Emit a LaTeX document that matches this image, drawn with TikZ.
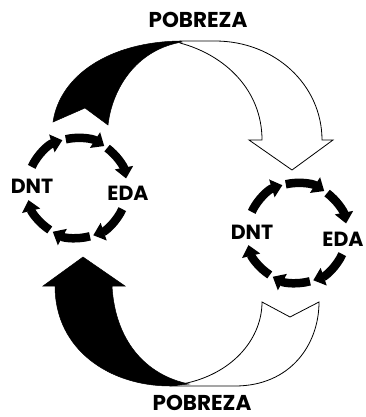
\documentclass[tikz,border=0pt]{standalone}
\usepackage{fontspec}
\setmainfont{Poppins}
\usetikzlibrary{arrows.meta,calc}
\tikzset{
  lbl/.style={inner sep=0pt, text height=14.3pt, text depth=0pt, font=\fontsize{20.5}{20.5}\selectfont\bfseries},
  title/.style={inner sep=0pt, text height=15pt, text depth=0pt, font=\fontsize{21.5}{21.5}\selectfont\bfseries},
  whitepart/.style={fill=white, draw=black, line width=0.8pt, line join=miter},
  blackpart/.style={fill=black, draw=black, line width=0.5pt},
  cyc/.style={line width=8.5pt, -{Triangle[width=18pt,length=11pt]}},
}
\begin{document}
\begin{tikzpicture}[x=1pt, y=-1pt]
\useasboundingbox (0,0) rectangle (365,417);
\clip (0,0) rectangle (365,417);
% top big arrow
\draw[whitepart] (180,41) -- (215,41) .. controls (275,41) and (322,85) .. (322,140)
  -- (333,140) -- (292,170) -- (249,140) -- (262,140)
  .. controls (262,90) and (225,55) .. (180,43) -- cycle;
\fill[blackpart] (53,122) .. controls (60,75) and (110,42) .. (180,41) -- (182,42)
  .. controls (135,50) and (112,90) .. (108,125) -- (85,108) -- cycle;
% bottom big arrow
\draw[whitepart] (170,386) -- (235,386) .. controls (290,386) and (319,345) .. (319,302)
  -- (290,317) -- (262,302) .. controls (262,337) and (235,372) .. (187,383) -- cycle;
\fill[blackpart] (55,286) .. controls (55,350) and (110,386) .. (170,386) -- (189,384)
  .. controls (145,375) and (115,340) .. (112,286) -- (125,286) -- (83,257) -- (43,286) -- cycle;
% left cycle
\coordinate (cl) at (77,188);
\foreach \a/\b in {-155/-107, -103/-57, -53/-11, 25/71, 75/119, 123/166}{
  \draw[cyc] ($(cl)+(\a:50)$) arc[start angle=\a, end angle=\b, radius=50];
}
% right cycle
\coordinate (cr) at (297,233);
\foreach \a/\b in {-155/-107, -103/-57, -53/-11, 25/71, 75/119, 123/166}{
  \draw[cyc] ($(cr)+(\a:50)$) arc[start angle=\a, end angle=\b, radius=50];
}
\node[title] (ptop) at (198,20) {POBREZA};
\node[title] (pbot) at (202,403) {POBREZA};
\node[lbl] (dntl) at (32,186) {DNT};
\node[lbl] (edal) at (128,193) {EDA};
\node[lbl] (dntr) at (252,232) {DNT};
\node[lbl] (edar) at (343,239) {EDA};
\end{tikzpicture}
\end{document}
